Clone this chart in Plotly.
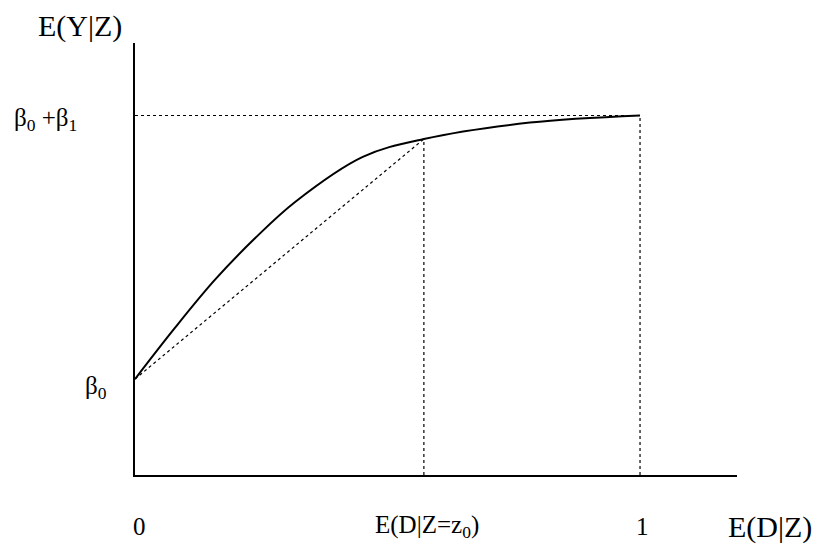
import plotly.graph_objects as go

# Data
curve_x = [0.0, 0.079, 0.158, 0.238, 0.317, 0.451, 0.572, 0.782, 1.0]
curve_y = [1.0, 1.194, 1.376, 1.535, 1.672, 1.843, 1.911, 1.973, 2.0]
beta0 = 1.0
beta0_plus_beta1 = 2.0
z0 = 0.572
y_at_z0 = 1.911
x_max = 1.192
y_min = 0.636
y_max = 2.275

OFF = 8  # page body margin
W, H = 825 - OFF, 547 - OFF
L, R, T, B = 135 - OFF, 88, 43 - OFF, 72
pw, ph = W - L - R, H - T - B

def px(x):
    return (x - OFF - L) / pw

def py(y):
    return (H - B - (y - OFF)) / ph

font = "Liberation Serif, Times New Roman, serif"
dot = dict(color="black", width=1.2, dash="dot")

fig = go.Figure()
fig.add_trace(go.Scatter(x=[0, 1], y=[beta0_plus_beta1, beta0_plus_beta1], mode="lines", line=dot, hoverinfo="skip"))
fig.add_trace(go.Scatter(x=[1, 1], y=[y_min, beta0_plus_beta1], mode="lines", line=dot, hoverinfo="skip"))
fig.add_trace(go.Scatter(x=[z0, z0], y=[y_min, y_at_z0], mode="lines", line=dot, hoverinfo="skip"))
fig.add_trace(go.Scatter(x=[0, z0], y=[beta0, y_at_z0], mode="lines", line=dot, hoverinfo="skip"))
fig.add_trace(go.Scatter(x=curve_x, y=curve_y, mode="lines",
                         line=dict(color="black", width=2, shape="spline", smoothing=1.0), hoverinfo="skip"))

ann = [
    ("E(Y|Z)", 80, 26, 30),
    ("E(D|Z)", 770, 527, 30),
    ("E(D|Z=z<sub>0</sub>)", 427, 526, 25),
    ("1", 642, 526, 25),
    ("0", 139, 526, 25),
    ("β<sub>0</sub> +β<sub>1</sub>", 45, 120, 25),
    ("β<sub>0</sub>", 96, 387, 25),
]
annotations = [
    dict(text=t, x=px(x), y=py(y), xref="paper", yref="paper", showarrow=False,
         xanchor="center", yanchor="middle", font=dict(family=font, size=s, color="black"))
    for t, x, y, s in ann
]

fig.update_layout(
    width=W, height=H,
    margin=dict(l=L, r=R, t=T, b=B),
    paper_bgcolor="white", plot_bgcolor="white",
    showlegend=False,
    annotations=annotations,
    xaxis=dict(range=[0, x_max], showline=True, linecolor="black", linewidth=1.6,
               showgrid=False, zeroline=False, showticklabels=False, ticks=""),
    yaxis=dict(range=[y_min, y_max], showline=True, linecolor="black", linewidth=1.6,
               showgrid=False, zeroline=False, showticklabels=False, ticks=""),
)

fig.write_html("out.html")
